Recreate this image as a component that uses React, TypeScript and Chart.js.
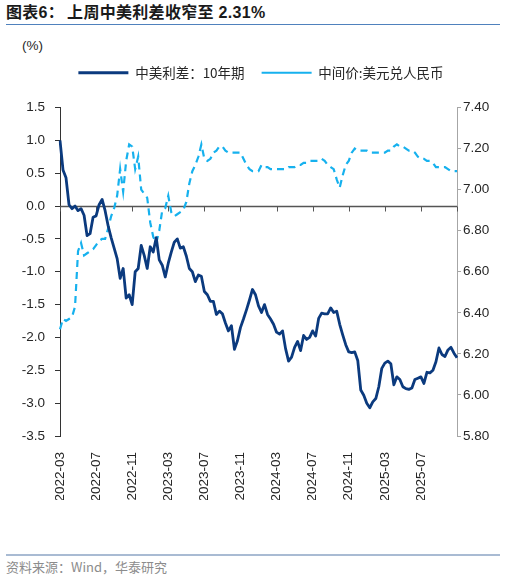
import React, { useEffect, useRef } from "react";
import { Chart, registerables } from "chart.js";

Chart.register(...registerables);

// ---- data ----
const TITLE_PREFIX = "图表6：";
const TITLE_TEXT = "上周中美利差收窄至 2.31%";
const UNIT_LABEL = "(%)";
const SOURCE_TEXT = "资料来源：Wind，华泰研究";
const SERIES_NAMES = ["中美利差：10年期", "中间价:美元兑人民币"];

// sampling dates: 1st, 11th, 21st of each month, 2022-03-01 .. 2025-11-01
const DATES: string[] = [];
for (let k = 0; k <= 132; k++) {
  const m = Math.floor(k / 3);
  const day = [1, 11, 21][k % 3];
  const year = 2022 + Math.floor((2 + m) / 12);
  const month = ((2 + m) % 12) + 1;
  DATES.push(`${year}-${String(month).padStart(2, "0")}-${String(day).padStart(2, "0")}`);
}

// China-US 10Y yield spread (%), left axis
const SPREAD_10Y = [
  1.0, 0.55, 0.43, 0.02, -0.04, 0.0, -0.07, -0.04, -0.14, -0.45,
  -0.42, -0.17, -0.15, 0.02, 0.1, -0.07, -0.3, -0.48, -0.64, -0.8,
  -1.1, -0.95, -1.4, -1.35, -1.5, -1.0, -0.95, -0.6, -0.75, -0.95,
  -0.62, -0.7, -0.48, -0.82, -0.9, -1.08, -0.87, -0.7, -0.55, -0.5,
  -0.64, -0.62, -0.76, -0.95, -1.0, -1.15, -1.05, -1.07, -1.3, -1.35,
  -1.45, -1.45, -1.65, -1.6, -1.64, -1.78, -1.9, -1.82, -2.18, -2.05,
  -1.85, -1.72, -1.58, -1.43, -1.27, -1.35, -1.52, -1.62, -1.5, -1.65,
  -1.72, -1.8, -1.92, -1.95, -1.9, -2.17, -2.36, -2.3, -2.15, -2.06,
  -2.2, -1.97, -2.03, -2.0, -1.9, -1.98, -1.71, -1.63, -1.64, -1.64,
  -1.55, -1.62, -1.6, -1.8, -1.96, -2.11, -2.22, -2.23, -2.22, -2.35,
  -2.8, -2.88, -3.0, -3.07, -2.98, -2.93, -2.75, -2.47, -2.39, -2.36,
  -2.4, -2.72, -2.6, -2.64, -2.75, -2.78, -2.79, -2.77, -2.64, -2.62,
  -2.6, -2.7, -2.53, -2.54, -2.5, -2.37, -2.16, -2.26, -2.29, -2.19,
  -2.15, -2.24, -2.31,
];

// USD/CNY central parity, right axis
const USDCNY_MID = [
  6.32, 6.37, 6.36, 6.37, 6.38, 6.43, 6.7, 6.74, 6.68, 6.69,
  6.7, 6.71, 6.73, 6.75, 6.76, 6.76, 6.81, 6.87, 6.91, 6.97,
  7.1, 6.99, 7.14, 7.22, 7.21, 7.1, 7.16, 7.0, 6.98, 6.96,
  6.84, 6.77, 6.74, 6.8, 6.9, 6.91, 6.97, 6.89, 6.87, 6.88,
  6.89, 6.9, 6.94, 7.03, 7.09, 7.12, 7.16, 7.22, 7.15, 7.14,
  7.15, 7.18, 7.19, 7.21, 7.21, 7.19, 7.18, 7.18, 7.18, 7.18,
  7.18, 7.15, 7.12, 7.1, 7.09, 7.09, 7.09, 7.12, 7.11, 7.11,
  7.1, 7.1, 7.1, 7.1, 7.1, 7.1, 7.11, 7.11, 7.11, 7.12,
  7.12, 7.13, 7.13, 7.14, 7.14, 7.14, 7.14, 7.15, 7.14, 7.12,
  7.11, 7.1, 7.05, 7.01, 7.07, 7.12, 7.14, 7.18, 7.2, 7.19,
  7.19, 7.19, 7.19, 7.18, 7.18, 7.18, 7.18, 7.18, 7.18, 7.19,
  7.19, 7.21, 7.22, 7.21, 7.21, 7.2, 7.19, 7.19, 7.18, 7.16,
  7.15, 7.15, 7.14, 7.14, 7.13, 7.11, 7.11, 7.11, 7.11, 7.1,
  7.09, 7.09, 7.09,
];

const LEFT_MIN = -3.5;
const LEFT_MAX = 1.5;
const LEFT_STEP = 0.5;
const RIGHT_MIN = 5.8;
const RIGHT_MAX = 7.4;
const RIGHT_STEP = 0.2;
const X_TICK_EVERY = 12; // every 4 months

const DARK = "#0b3a7e";
const LIGHT = "#16b1ee";
const TEXT = "#262626";
const TICK_FONT = { family: "'Liberation Sans', Arial, sans-serif", size: 13.5 };

const zeroAxisPlugin = {
  id: "zeroAxis",
  beforeDatasetsDraw(chart: any) {
    const { ctx, chartArea, scales } = chart;
    const y = Math.round(scales.y.getPixelForValue(0)) + 0.5;
    ctx.save();
    ctx.strokeStyle = "#555555";
    ctx.lineWidth = 1.5;
    ctx.beginPath();
    ctx.moveTo(chartArea.left, y);
    ctx.lineTo(chartArea.right, y);
    ctx.stroke();
    ctx.lineWidth = 1;
    ctx.beginPath();
    scales.x.ticks.forEach((_t: any, i: number) => {
      const x = Math.round(scales.x.getPixelForTick(i)) + 0.5;
      ctx.moveTo(x, y);
      ctx.lineTo(x, y + 5);
    });
    ctx.stroke();
    ctx.restore();
  },
};

// adds space below the legend
const legendGapPlugin = {
  id: "legendGap",
  beforeInit(chart: any) {
    const legend = chart.legend;
    if (!legend) return;
    const origFit = legend.fit;
    legend.fit = function () {
      origFit.call(this);
      this.height += 18;
    };
  },
};

function LineChart() {
  const ref = useRef<HTMLCanvasElement | null>(null);
  useEffect(() => {
    if (!ref.current) return;
    const chart = new Chart(ref.current, {
      type: "line",
      data: {
        labels: DATES,
        datasets: [
          {
            label: SERIES_NAMES[0],
            data: SPREAD_10Y,
            yAxisID: "y",
            borderColor: DARK,
            backgroundColor: DARK,
            borderWidth: 2.8,
            borderJoinStyle: "round",
            pointRadius: 0,
            tension: 0,
          },
          {
            label: SERIES_NAMES[1],
            data: USDCNY_MID,
            yAxisID: "y1",
            borderColor: LIGHT,
            backgroundColor: LIGHT,
            borderWidth: 2.2,
            borderDash: [7, 5],
            pointRadius: 0,
            tension: 0,
          },
        ],
      },
      options: {
        animation: false,
        responsive: false,
        devicePixelRatio: 1,
        layout: { padding: { left: 16, right: 0, top: 9, bottom: 0 } },
        plugins: {
          tooltip: { enabled: false },
          legend: {
            display: true,
            position: "top",
            labels: {
              usePointStyle: true,
              pointStyle: "line",
              pointStyleWidth: 50,
              padding: 17,
              color: TEXT,
              font: { family: "'Noto Sans CJK SC', sans-serif", size: 13.5 },
            },
          },
        },
        scales: {
          x: {
            type: "category",
            position: "bottom",
            grid: { display: false },
            border: { display: false },
            afterBuildTicks: (scale: any) => {
              scale.ticks = scale.ticks.filter((t: any) => t.value % X_TICK_EVERY === 0);
            },
            afterFit: (scale: any) => {
              scale.height = 64;
            },
            ticks: {
              autoSkip: false,
              maxRotation: 90,
              minRotation: 90,
              padding: 8,
              color: TEXT,
              font: TICK_FONT,
              callback: (value: any) => {
                const v = Number(value);
                if (v >= DATES.length - 1) return "";
                return DATES[v].slice(0, 7);
              },
            },
          },
          y: {
            type: "linear",
            position: "left",
            min: LEFT_MIN,
            max: LEFT_MAX,
            afterFit: (scale: any) => {
              scale.width = 44;
            },
            ticks: {
              stepSize: LEFT_STEP,
              padding: 10,
              color: TEXT,
              font: TICK_FONT,
              callback: (v: any) => Number(v).toFixed(1),
            },
            grid: {
              drawOnChartArea: false,
              drawTicks: true,
              tickLength: 5,
              tickColor: "#333333",
            },
            border: { display: true, color: "#333333", width: 1 },
          },
          y1: {
            type: "linear",
            position: "right",
            min: RIGHT_MIN,
            max: RIGHT_MAX,
            afterFit: (scale: any) => {
              scale.width = 49;
            },
            ticks: {
              stepSize: RIGHT_STEP,
              padding: 2,
              color: TEXT,
              font: TICK_FONT,
              callback: (v: any) => Number(v).toFixed(2),
            },
            grid: {
              drawOnChartArea: false,
              drawTicks: true,
              tickLength: 4,
              tickColor: "#a6a6a6",
            },
            border: { display: true, color: "#a6a6a6", width: 1 },
          },
        },
      },
      plugins: [zeroAxisPlugin, legendGapPlugin],
    });
    return () => chart.destroy();
  }, []);
  return (
    <canvas
      ref={ref}
      width={506}
      height={460}
      style={{ position: "absolute", left: 0, top: 40, width: 506, height: 460 }}
    />
  );
}

export default function App() {
  return (
    <div
      style={{
        position: "absolute",
        left: 0,
        top: 0,
        width: 506,
        height: 580,
        background: "#ffffff",
        overflow: "hidden",
        fontFamily: "'Liberation Sans', Arial, 'Noto Sans CJK SC', sans-serif",
      }}
    >
      <div
        style={{
          position: "absolute",
          left: 6,
          top: 3,
          fontSize: 16,
          fontWeight: "bold",
          color: "#1a1a1a",
          whiteSpace: "nowrap",
          lineHeight: "20px",
          letterSpacing: 0.3,
          fontFamily: "'Liberation Sans', 'Noto Sans CJK SC', sans-serif",
        }}
      >
        <span>{TITLE_PREFIX}</span>
        <span style={{ marginLeft: 3 }}>{TITLE_TEXT}</span>
      </div>
      <div
        style={{ position: "absolute", left: 6, top: 24, width: 494, height: 1, background: "#4f81bd" }}
      />
      <div
        style={{
          position: "absolute",
          left: 22,
          top: 38,
          fontSize: 13.5,
          color: TEXT,
          lineHeight: "16px",
        }}
      >
        {UNIT_LABEL}
      </div>
      <LineChart />
      <div
        style={{ position: "absolute", left: 6, top: 554, width: 494, height: 2, background: "#a9bbd3" }}
      />
      <div
        style={{
          position: "absolute",
          left: 6,
          top: 559,
          fontSize: 13,
          color: "#8c8c8c",
          lineHeight: "16px",
          whiteSpace: "nowrap",
          fontFamily: "'Noto Sans CJK SC', 'Liberation Sans', sans-serif",
        }}
      >
        {SOURCE_TEXT}
      </div>
    </div>
  );
}
